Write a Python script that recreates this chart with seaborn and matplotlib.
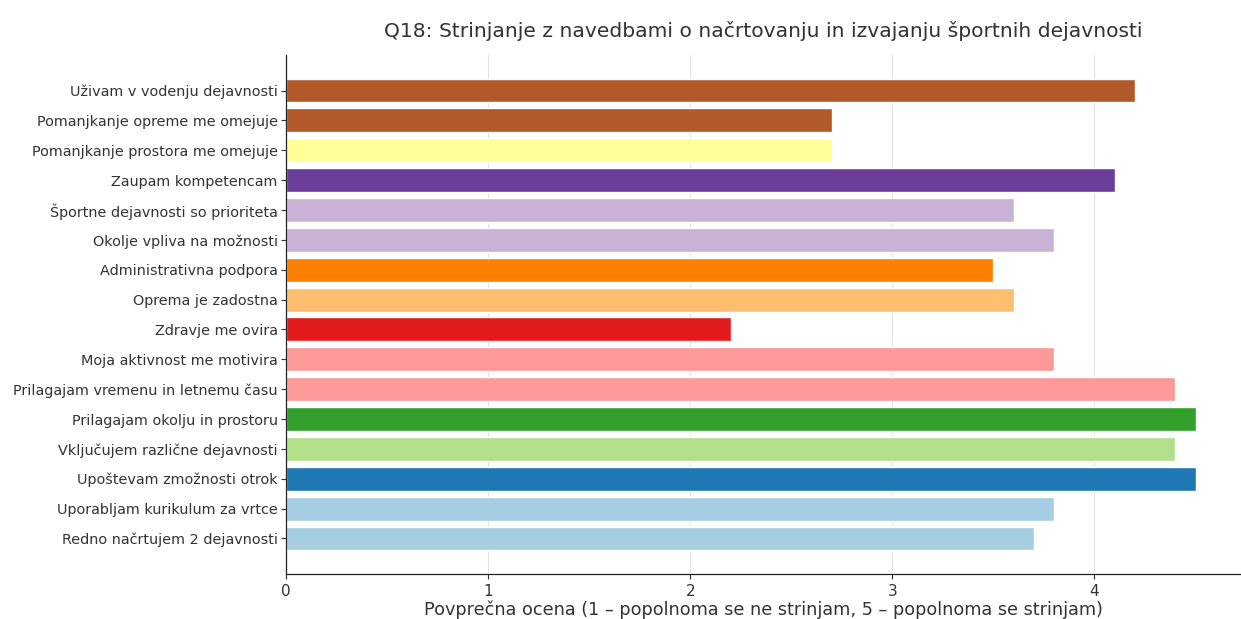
import numpy as np
import pandas as pd
import matplotlib
matplotlib.use("Agg")
import matplotlib.pyplot as plt
import seaborn as sns

# Categories listed bottom -> top (as in the original plotting order)
statements = [
    "Redno načrtujem 2 dejavnosti",
    "Uporabljam kurikulum za vrtce",
    "Upoštevam zmožnosti otrok",
    "Vključujem različne dejavnosti",
    "Prilagajam okolju in prostoru",
    "Prilagajam vremenu in letnemu času",
    "Moja aktivnost me motivira",
    "Zdravje me ovira",
    "Oprema je zadostna",
    "Administrativna podpora",
    "Okolje vpliva na možnosti",
    "Športne dejavnosti so prioriteta",
    "Zaupam kompetencam",
    "Pomanjkanje prostora me omejuje",
    "Pomanjkanje opreme me omejuje",
    "Uživam v vodenju dejavnosti",
]
mean_scores = [3.7, 3.8, 4.5, 4.4, 4.5, 4.4, 3.8, 2.2, 3.6, 3.5, 3.8, 3.6, 4.1, 2.7, 2.7, 4.2]

title = "Q18: Strinjanje z navedbami o načrtovanju in izvajanju športnih dejavnosti"
xlabel = "Povprečna ocena (1 – popolnoma se ne strinjam, 5 – popolnoma se strinjam)"

sns.set_theme(style="ticks")
plt.rcParams["font.family"] = ["DejaVu Sans"]

colors = [tuple(c) for c in plt.cm.Paired(np.linspace(0, 1, len(statements)))]

# seaborn puts the first category at the top, so reverse order
df = pd.DataFrame({"statement": statements[::-1], "score": mean_scores[::-1]})
palette = dict(zip(statements, colors))

fig = plt.figure(figsize=(12.41, 6.19), dpi=100)
ax = fig.add_axes([286 / 1241, 45 / 619, (1241 - 286) / 1241, (576 - 57) / 619])

sns.barplot(data=df, y="statement", x="score", hue="statement", palette=palette,
            order=df["statement"], legend=False, ax=ax, width=0.8, saturation=1)

n = len(statements)
ax.set_ylim(n - 1 + 1.19, -1.19)
ax.set_xlim(0, 4.725)
ax.set_xticks([0, 1, 2, 3, 4])
ax.xaxis.grid(True, color="#e3e3e3", linewidth=0.8)
ax.yaxis.grid(False)
ax.set_axisbelow(True)
for s in ["top", "right"]:
    ax.spines[s].set_visible(False)
for s in ["left", "bottom"]:
    ax.spines[s].set_color("#222222")
    ax.spines[s].set_linewidth(0.9)
ax.tick_params(axis="both", colors="#333333", length=3.5, width=0.8)
ax.tick_params(axis="y", labelsize=10.4, pad=2.5)
ax.tick_params(axis="x", labelsize=11)
ax.set_ylabel("")
ax.set_xlabel(xlabel, fontsize=12.7, color="#333333", labelpad=1)
ax.set_title(title, fontsize=14.6, color="#333333", pad=13)

fig.savefig("out.png", dpi=100)
